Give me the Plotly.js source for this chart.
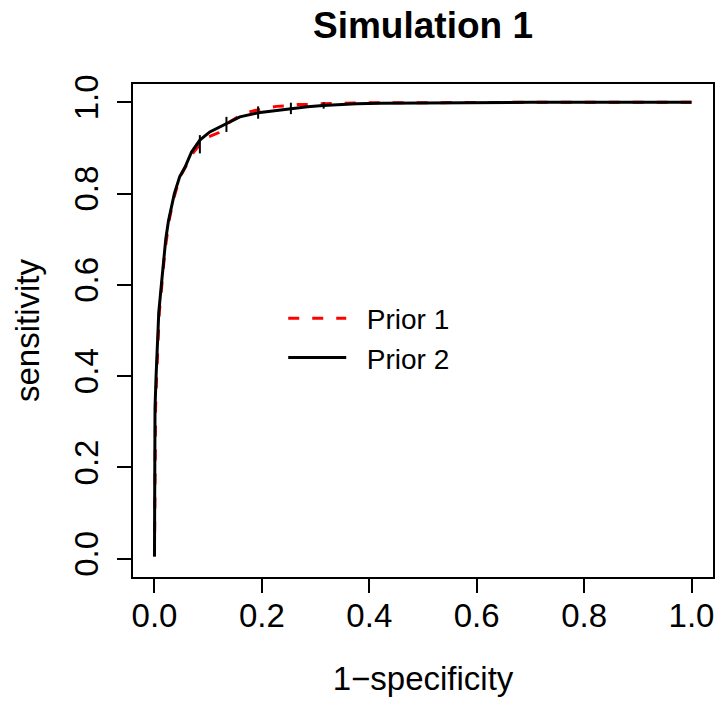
<!DOCTYPE html>
<html>
<head>
<meta charset="utf-8">
<script src="https://cdn.plot.ly/plotly-3.0.1.min.js"></script>
<style>html,body{margin:0;padding:0;background:#fff;}#chart{width:721px;height:704px;}</style>
</head>
<body>
<div id="chart"></div>
<script>
// Prior 1 (red dashed) ROC curve
var prior1Fpr = [0, 0.001, 0.002, 0.004, 0.006, 0.009, 0.013, 0.019, 0.027, 0.036, 0.047, 0.058, 0.072, 0.088, 0.1, 0.119, 0.14, 0.165, 0.187, 0.205, 0.227, 0.248, 0.267, 0.289, 0.314, 0.35, 0.4, 0.5, 0.6, 0.7, 0.8, 0.9, 1.0];
var prior1Tpr = [0.005, 0.25, 0.33, 0.40, 0.46, 0.54, 0.59, 0.67, 0.74, 0.79, 0.835, 0.86, 0.889, 0.913, 0.924, 0.933, 0.957, 0.975, 0.982, 0.986, 0.991, 0.992, 0.995, 0.995, 0.997, 0.998, 0.999, 0.999, 1.0, 1.0, 1.0, 1.0, 1.0];
// Prior 2 (black solid) ROC curve
var prior2Fpr = [0, 0, 0.001, 0.003, 0.005, 0.008, 0.012, 0.018, 0.021, 0.026, 0.031, 0.037, 0.047, 0.057, 0.069, 0.0845, 0.103, 0.120, 0.134, 0.159, 0.193, 0.225, 0.255, 0.285, 0.314, 0.345, 0.376, 0.42, 0.5, 0.6, 0.7, 0.8, 0.9, 1.0];
var prior2Tpr = [0.005, 0.25, 0.33, 0.40, 0.46, 0.54, 0.59, 0.67, 0.70, 0.74, 0.77, 0.80, 0.837, 0.858, 0.891, 0.917, 0.935, 0.945, 0.953, 0.968, 0.977, 0.982, 0.986, 0.99, 0.993, 0.995, 0.997, 0.998, 0.999, 0.9995, 1.0, 1.0, 1.0, 1.0];
// Interval bars on the Prior 2 curve
var barFpr = [0.0845, 0.134, 0.193, 0.254, 0.315];
var barMid = [0.917, 0.953, 0.977, 0.986, 0.993];
var barLow = [0.888, 0.935, 0.964, 0.974, 0.986];
var barHigh = [0.928, 0.968, 0.991, 0.999, 1.0];
var legendNames = ["Prior 1", "Prior 2"];
var xTicks = [0, 0.2, 0.4, 0.6, 0.8, 1.0];
var xTickText = ["0.0", "0.2", "0.4", "0.6", "0.8", "1.0"];
var yTicks = [0, 0.2, 0.4, 0.6, 0.8, 1.0];
var yTickText = ["0.0", "0.2", "0.4", "0.6", "0.8", "1.0"];

var FONT = "Liberation Sans, Arial, Helvetica, sans-serif";
var PAD = "\u00a0\u00a0";

var traces = [
  {
    x: prior1Fpr, y: prior1Tpr, type: "scatter", mode: "lines", name: PAD + legendNames[0],
    line: {color: "#ff0000", width: 3, dash: "11px,13px"}
  },
  {
    x: prior2Fpr, y: prior2Tpr, type: "scatter", mode: "lines", name: PAD + legendNames[1],
    line: {color: "#000000", width: 3}
  },
  {
    x: barFpr, y: barMid, type: "scatter", mode: "markers", showlegend: false,
    marker: {size: 1, color: "rgba(0,0,0,0)"},
    error_y: {
      type: "data", symmetric: false,
      array: barHigh.map(function (h, i) { return h - barMid[i]; }),
      arrayminus: barMid.map(function (m, i) { return m - barLow[i]; }),
      color: "#000000", thickness: 2, width: 0
    },
    hoverinfo: "skip"
  }
];

var layout = {
  width: 721, height: 704,
  margin: {l: 133, r: 8, t: 84, b: 127, pad: 0},
  paper_bgcolor: "#ffffff", plot_bgcolor: "#ffffff",
  font: {family: FONT, color: "#000000"},
  title: {
    text: "<b>Simulation 1</b>", font: {family: FONT, size: 37, color: "#000000"},
    x: 0.5, xref: "paper", xanchor: "center", y: 1 - 25 / 704, yref: "container", yanchor: "middle"
  },
  xaxis: {
    range: [-0.04, 1.04], tickvals: xTicks, ticktext: xTickText,
    showgrid: false, zeroline: false, showline: true, mirror: true,
    linecolor: "#000000", linewidth: 2,
    ticks: "outside", ticklen: 14, tickwidth: 2, tickcolor: "#000000",
    tickfont: {family: FONT, size: 33, color: "#000000"},
    ticklabelstandoff: -6,
    title: {text: "1\u2212specificity", font: {family: FONT, size: 33, color: "#000000"}, standoff: 34}
  },
  yaxis: {
    range: [-0.04, 1.04], tickvals: yTicks, ticktext: yTickText,
    showgrid: false, zeroline: false, showline: true, mirror: true,
    linecolor: "#000000", linewidth: 2,
    ticks: "outside", ticklen: 14, tickwidth: 2, tickcolor: "#000000",
    tickangle: -90,
    tickfont: {family: FONT, size: 33, color: "#000000"},
    ticklabelstandoff: 6,
    title: {text: "sensitivity", font: {family: FONT, size: 33, color: "#000000"}, standoff: 18}
  },
  showlegend: true,
  legend: {
    x: 0.259, xanchor: "left", y: 0.575, yanchor: "top",
    bgcolor: "rgba(0,0,0,0)", borderwidth: 0,
    font: {family: FONT, size: 28, color: "#000000"},
    itemwidth: 58, tracegroupgap: 0
  }
};

Plotly.newPlot("chart", traces, layout, {displayModeBar: false, staticPlot: true});
</script>
</body>
</html>
